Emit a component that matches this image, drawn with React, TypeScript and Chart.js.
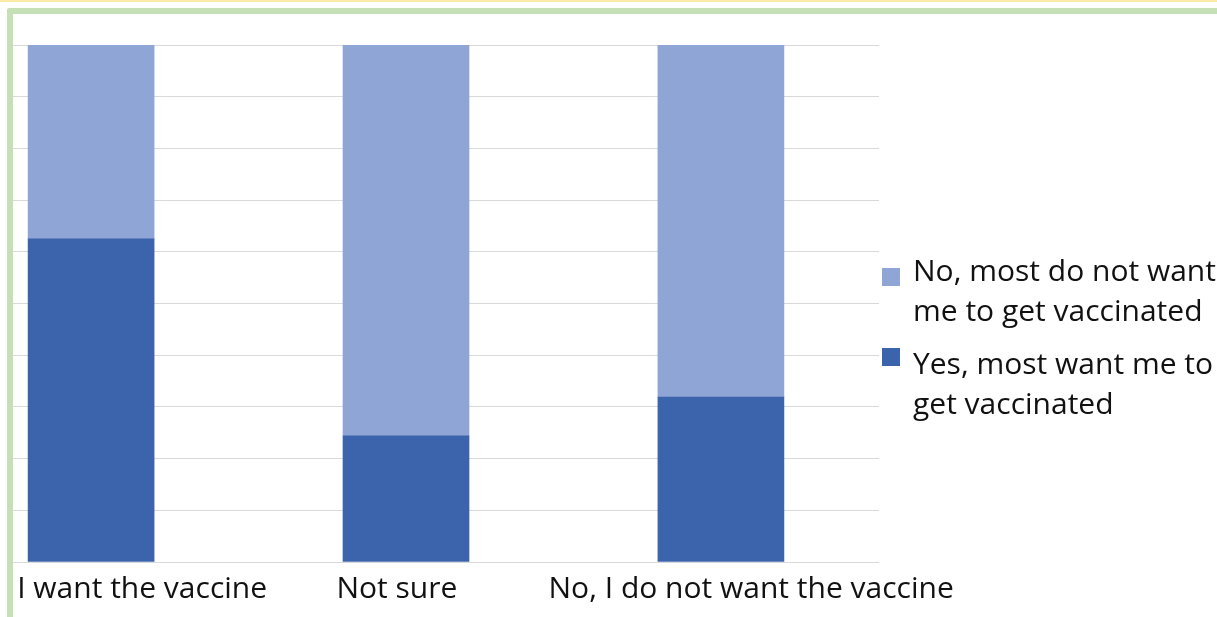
import React, { useEffect, useRef } from "react";
import { Chart, registerables } from "chart.js";

Chart.register(...registerables);

// ---- data ----
const categories = ["I want the vaccine", "Not sure", "No, I do not want the vaccine"];
const yesValues = [62.5, 24.4, 31.9];
const noValues = [37.5, 75.6, 68.1];
const yesLabel = ["Yes, most want me to", "get vaccinated"];
const noLabel = ["No, most do not want", "me to get vaccinated"];
const yTicks = [0, 10, 20, 30, 40, 50, 60, 70, 80, 90, 100];

// ---- layout / style ----
const W = 1217;
const H = 617;
const barPositions = [0, 1, 2];
const labelPositions = [0.162, 0.971, 2.096];
const FONT = "'Open Sans', sans-serif";
const DARK = "#3c64ac";
const LIGHT = "#8fa5d5";

const textPlugin = {
  id: "customText",
  afterDraw(chart: any) {
    const ctx = chart.ctx;
    ctx.save();
    ctx.font = `30px ${FONT}`;
    ctx.textBaseline = "alphabetic";
    // category labels
    const xs = chart.scales.x;
    ctx.textAlign = "center";
    ctx.fillStyle = "#111";
    categories.forEach((c, i) => {
      ctx.fillText(c, xs.getPixelForValue(labelPositions[i]), 598);
    });
    // legend
    const entries = [
      { color: LIGHT, lines: noLabel, boxY: 268, baseY: 281 },
      { color: DARK, lines: yesLabel, boxY: 348, baseY: 374 },
    ];
    ctx.textAlign = "left";
    for (const e of entries) {
      ctx.fillStyle = e.color;
      ctx.fillRect(882, e.boxY, 18, 18);
      ctx.fillStyle = "#111";
      e.lines.forEach((l, i) => ctx.fillText(l, 913, e.baseY + i * 40));
    }
    ctx.restore();
  },
};

export default function App() {
  const ref = useRef<HTMLCanvasElement>(null);
  useEffect(() => {
    if (!ref.current) return;
    const chart = new Chart(ref.current, {
      type: "bar",
      data: {
        datasets: [
          {
            label: yesLabel.join(" "),
            data: barPositions.map((x, i) => ({ x, y: yesValues[i] })),
            backgroundColor: DARK,
            barThickness: 126,
          },
          {
            label: noLabel.join(" "),
            data: barPositions.map((x, i) => ({ x, y: noValues[i] })),
            backgroundColor: LIGHT,
            barThickness: 126,
          },
        ],
      },
      options: {
        animation: false,
        responsive: false,
        layout: { padding: { left: 13, right: 338, top: 45, bottom: 55 } },
        plugins: { legend: { display: false }, tooltip: { enabled: false } },
        scales: {
          x: {
            type: "linear",
            stacked: true,
            offset: false,
            bounds: "data",
            min: -0.248,
            max: 2.502,
            grid: { display: false, drawTicks: false, offset: false },
            border: { display: false },
            ticks: { display: false },
          },
          y: {
            stacked: true,
            min: 0,
            max: 100,
            afterBuildTicks: (scale: any) => {
              scale.ticks = yTicks.map((v) => ({ value: v }));
            },
            ticks: { display: false },
            grid: { color: "#d9d9d9", lineWidth: 1, drawTicks: false },
            border: { display: false },
          },
        },
      },
      plugins: [textPlugin],
    });
    return () => chart.destroy();
  }, []);

  return (
    <div style={{ position: "fixed", left: 0, top: 0, width: W, height: H, background: "#fff" }}>
      <canvas ref={ref} width={W} height={H} style={{ display: "block", position: "absolute", left: 0, top: 0 }} />
      <div style={{ position: "absolute", left: 0, top: 0, width: W, height: 2, background: "#fde9a6" }} />
      <div
        style={{
          position: "absolute",
          left: 7,
          top: 8,
          width: W,
          height: H,
          borderTop: "6px solid #c5e0b4",
          borderLeft: "6px solid #c5e0b4",
          borderTopLeftRadius: 3,
        }}
      />
    </div>
  );
}
